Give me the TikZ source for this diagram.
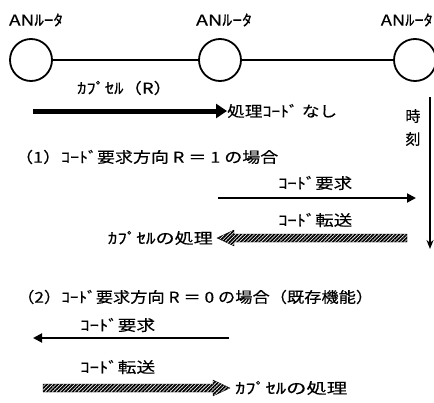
\documentclass[tikz,border=0pt]{standalone}
\usepackage{fontspec}
\setmainfont{Noto Sans CJK JP}[FakeBold=0.3]
\usetikzlibrary{arrows.meta,patterns.meta,calc}
\newcommand{\wfit}[2]{\resizebox{#1pt}{\height}{#2}}
\tikzset{
  txt/.style={inner sep=0pt, font=\fontsize{15}{15}\selectfont},
  router/.style={circle, draw, line width=1.8pt, minimum size=42pt, inner sep=0pt},
  link/.style={line width=1.4pt},
  msg/.style={line width=1.9pt, -{Triangle[length=9pt,width=9pt]}},
  bigmsg/.style={line width=5pt, -{Triangle[length=11pt,width=14pt]}},
  timeax/.style={line width=1.5pt, -{Stealth[length=9pt,width=7pt]}},
  hatch/.style={draw, line width=0.3pt,
    pattern={Lines[angle=45,distance=2.6pt,line width=1.7pt]}},
}
\begin{document}
\begin{tikzpicture}[x=1pt,y=-1pt]
\useasboundingbox (0,0) rectangle (434,402);
\clip (0,0) rectangle (434,402);
% routers
\node[txt] (l1) at (36,20) {\wfit{54}{ANﾙｰﾀ}};
\node[txt] (l2) at (224,20) {\wfit{56}{ANﾙｰﾀ}};
\node[txt,anchor=east] (l3) at (433,20) {\wfit{52}{ANﾙｰﾀ}};
\node[router] (c1) at (31,60) {};
\node[router] (c2) at (220,60) {};
\node[router] (c3) at (415,60) {};
\draw[link] (c1) -- (c2);
\draw[link] (c2) -- (c3);
% capsule
\node[txt,anchor=west] (cap) at (77,88) {\wfit{95}{ｶﾌﾟｾﾙ（R）}};
\coordinate (a0s) at (33,111);
\node[txt,anchor=west] (nocode) at (227,111) {\wfit{110}{処理ｺｰﾄﾞ なし}};
\draw[bigmsg] (a0s) -- (nocode.west);
% time axis
\coordinate (t0) at (430,97);
\coordinate (t1) at (430,249);
\draw[timeax] (t0) -- (t1);
\node[txt] (ji) at (413,116) {時};
\node[txt] (koku) at (413,139) {刻};
% case 1
\node[txt,anchor=west] (h1) at (15,157) {\wfit{263}{（1）ｺｰﾄﾞ要求方向 R ＝ 1 の場合}};
\node[txt,anchor=west] (req1) at (278,183) {\wfit{74}{ｺｰﾄﾞ要求}};
\coordinate (r1s) at (218,198);
\coordinate (r1e) at (416,198);
\draw[msg] (r1s) -- (r1e);
\node[txt,anchor=west] (tr1) at (278,220) {\wfit{74}{ｺｰﾄﾞ転送}};
\node[txt,anchor=east] (proc1) at (213,238) {\wfit{105}{ｶﾌﾟｾﾙの処理}};
\coordinate (h1s) at (407,238);
\coordinate (h1e) at (217,238);
\draw[hatch] ($(h1s)+(0,-4)$) -- ($(h1e)+(17,-4)$) -- ($(h1e)+(17,-8)$) -- (h1e)
  -- ($(h1e)+(17,8)$) -- ($(h1e)+(17,4)$) -- ($(h1s)+(0,4)$) -- cycle;
% case 2
\node[txt,anchor=west] (h2) at (17,297) {\wfit{356}{（2）ｺｰﾄﾞ要求方向 R ＝ 0 の場合（既存機能）}};
\node[txt,anchor=west] (req2) at (80,325) {\wfit{75}{ｺｰﾄﾞ要求}};
\coordinate (r2s) at (229,338);
\coordinate (r2e) at (33,338);
\draw[msg] (r2s) -- (r2e);
\node[txt,anchor=west] (tr2) at (80,367) {\wfit{75}{ｺｰﾄﾞ転送}};
\coordinate (h2s) at (43,388);
\coordinate (h2e) at (230,388);
\draw[hatch] ($(h2s)+(0,-4)$) -- ($(h2e)+(-17,-4)$) -- ($(h2e)+(-17,-8)$) -- (h2e)
  -- ($(h2e)+(-17,8)$) -- ($(h2e)+(-17,4)$) -- ($(h2s)+(0,4)$) -- cycle;
\node[txt,anchor=west] (proc2) at (235,388) {\wfit{112}{ｶﾌﾟｾﾙの処理}};
\end{tikzpicture}
\end{document}
